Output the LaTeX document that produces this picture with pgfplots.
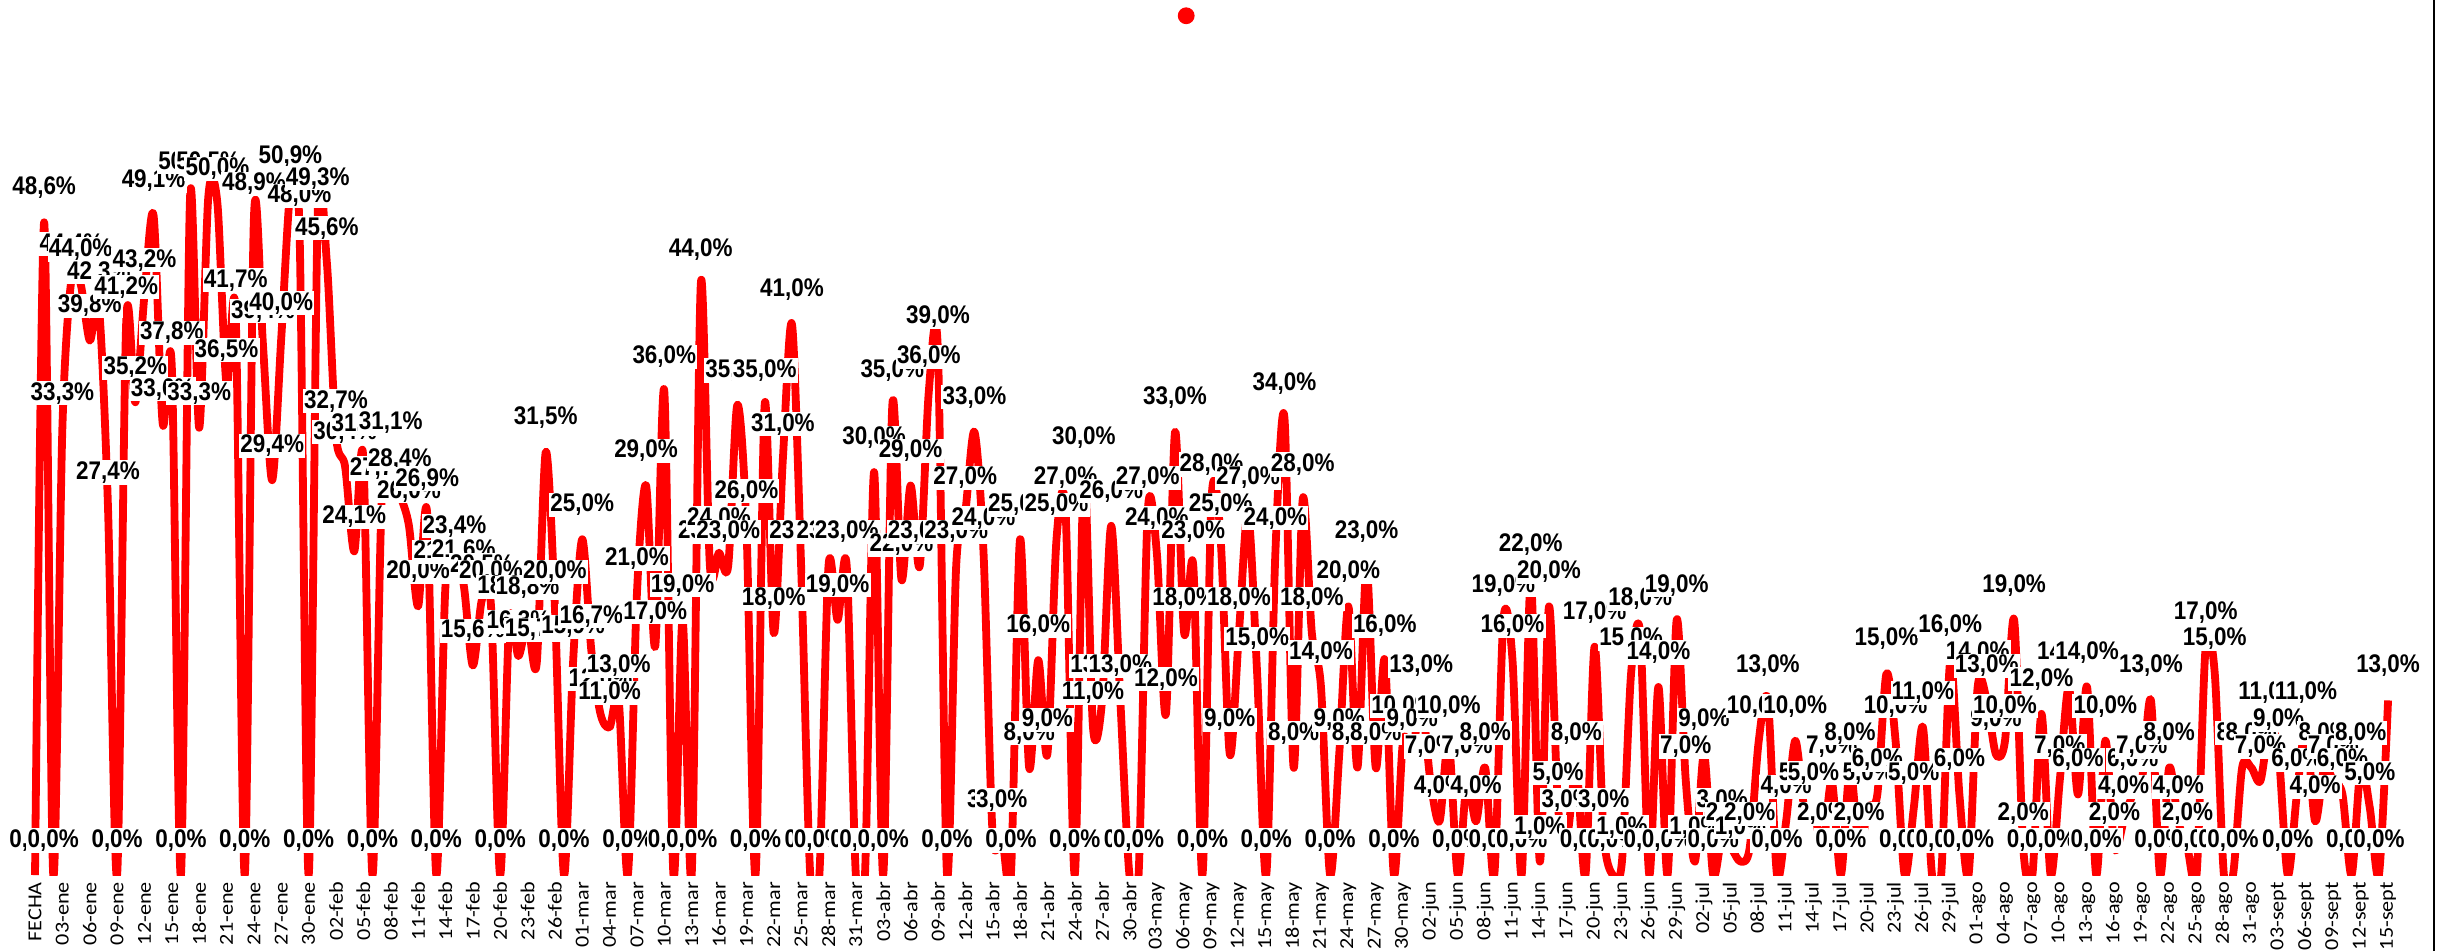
\documentclass[border=0pt]{standalone}
\usepackage{fontspec}
\usepackage{pgfplots}
\pgfplotsset{compat=1.18}
\newfontfamily\labfont[FakeStretch=0.88]{Liberation Sans}
\newfontfamily\tickfont[FakeStretch=1.12]{Carlito}
\definecolor{serred}{RGB}{255,0,0}
\begin{document}
\begin{tikzpicture}
\useasboundingbox (0pt,-25.33pt) rectangle (812.67pt,291.67pt);
\begin{axis}[
  scale only axis, width=811pt, height=291.67pt,
  xmin=-3.84, xmax=262.93, ymin=0, ymax=65.15,
  axis line style={draw=none},
  ytick=\empty,
  major tick length=0pt,
  xtick={0,3,...,258},
  xticklabels={FECHA,03-ene,06-ene,09-ene,12-ene,15-ene,18-ene,21-ene,24-ene,27-ene,30-ene,02-feb,05-feb,08-feb,11-feb,14-feb,17-feb,20-feb,23-feb,26-feb,01-mar,04-mar,07-mar,10-mar,13-mar,16-mar,19-mar,22-mar,25-mar,28-mar,31-mar,03-abr,06-abr,09-abr,12-abr,15-abr,18-abr,21-abr,24-abr,27-abr,30-abr,03-may,06-may,09-may,12-may,15-may,18-may,21-may,24-may,27-may,30-may,02-jun,05-jun,08-jun,11-jun,14-jun,17-jun,20-jun,23-jun,26-jun,29-jun,02-jul,05-jul,08-jul,11-jul,14-jul,17-jul,20-jul,23-jul,26-jul,29-jul,01-ago,04-ago,07-ago,10-ago,13-ago,16-ago,19-ago,22-ago,25-ago,28-ago,31-ago,03-sept,06-sept,09-sept,12-sept,15-sept},
  xticklabel style={rotate=90, anchor=east, inner sep=2.2pt, font=\tickfont\fontsize{6.6}{6.6}\selectfont},
  legend style={at={(axis description cs:0.49,0.982)}, anchor=center, draw=none, fill=none, inner sep=0pt},
  legend image code/.code={\fill[serred] (0.3cm,0cm) circle (2.6pt);},
]
\addplot[forget plot, serred, line width=2.6pt, smooth, line join=round,
  nodes near coords={\pgfmathprintnumber[fixed,fixed zerofill,precision=1,use comma,assume math mode=true]{\pgfplotspointmeta}\%},
  every node near coord/.append style={anchor=center, yshift=11.5pt, fill=white, inner sep=0.4pt, text=black, font=\labfont\bfseries\fontsize{8.5}{9}\selectfont}
] coordinates {
(0,0) (1,48.6) (2,0) (3,33.3) (4,44.4) (5,44.0) (6,39.8) (7,42.3) (8,27.4) (9,0)
(10,41.2) (11,35.2) (12,43.2) (13,49.1) (14,33.6) (15,37.8) (16,0) (17,50.5) (18,33.3) (19,50.5)
(20,50.0) (21,36.5) (22,41.7) (23,0) (24,48.9) (25,39.4) (26,29.4) (27,40.0) (28,50.9) (29,48.0)
(30,0) (31,49.3) (32,45.6) (33,32.7) (34,30.4) (35,24.1) (36,31.0) (37,0) (38,27.7) (39,31.1)
(40,28.4) (41,26.0) (42,20.0) (43,26.9) (44,0) (45,21.5) (46,23.4) (47,21.6) (48,15.6) (49,20.5)
(50,20.0) (51,0) (52,18.9) (53,16.3) (54,18.8) (55,15.7) (56,31.5) (57,20.0) (58,0) (59,15.9)
(60,25.0) (61,16.7) (62,12.0) (63,11.0) (64,13.0) (65,0) (66,21.0) (67,29.0) (68,17.0) (69,36.0)
(70,0) (71,19.0) (72,0) (73,44.0) (74,23.0) (75,24.0) (76,23.0) (77,35.0) (78,26.0) (79,0)
(80,35.0) (81,18.0) (82,31.0) (83,41.0) (84,23.0) (85,0) (86,0) (87,23.0) (88,19.0) (89,23.0)
(90,0) (91,0) (92,30.0) (93,0) (94,35.0) (95,22.0) (96,29.0) (97,23.0) (98,36.0) (99,39.0)
(100,0) (101,23.0) (102,27.0) (103,33.0) (104,24.0) (105,3.0) (106,3.0) (107,0) (108,25.0) (109,8.0)
(110,16.0) (111,9.0) (112,25.0) (113,27.0) (114,0) (115,30.0) (116,11.0) (117,13.0) (118,26.0) (119,13.0)
(120,0) (121,0) (122,27.0) (123,24.0) (124,12.0) (125,33.0) (126,18.0) (127,23.0) (128,0) (129,28.0)
(130,25.0) (131,9.0) (132,18.0) (133,27.0) (134,15.0) (135,0) (136,24.0) (137,34.0) (138,8.0) (139,28.0)
(140,18.0) (141,14.0) (142,0) (143,9.0) (144,20.0) (145,8.0) (146,23.0) (147,8.0) (148,16.0) (149,0)
(150,10.0) (151,9.0) (152,13.0) (153,7.0) (154,4.0) (155,10.0) (156,0) (157,7.0) (158,4.0) (159,8.0)
(160,0) (161,19.0) (162,16.0) (163,0) (164,22.0) (165,1.0) (166,20.0) (167,5.0) (168,3.0) (169,8.0)
(170,0) (171,17.0) (172,3.0) (173,0) (174,1.0) (175,15.0) (176,18.0) (177,0) (178,14.0) (179,0)
(180,19.0) (181,7.0) (182,1.0) (183,9.0) (184,0) (185,3.0) (186,2.0) (187,1.0) (188,2.0) (189,10.0)
(190,13.0) (191,0) (192,4.0) (193,10.0) (194,5.0) (195,5.0) (196,2.0) (197,7.0) (198,0) (199,8.0)
(200,2.0) (201,5.0) (202,6.0) (203,15.0) (204,10.0) (205,0) (206,5.0) (207,11.0) (208,0) (209,0)
(210,16.0) (211,6.0) (212,0) (213,14.0) (214,13.0) (215,9.0) (216,10.0) (217,19.0) (218,2.0) (219,0)
(220,12.0) (221,0) (222,7.0) (223,14.0) (224,6.0) (225,14.0) (226,0) (227,10.0) (228,2.0) (229,4.0)
(230,6.0) (231,7.0) (232,13.0) (233,0) (234,8.0) (235,4.0) (236,2.0) (237,0) (238,17.0) (239,15.0)
(240,0) (241,0) (242,8.0) (243,8.0) (244,7.0) (245,11.0) (246,9.0) (247,0) (248,6.0) (249,11.0)
(250,4.0) (251,8.0) (252,7.0) (253,6.0) (254,0) (255,8.0) (256,5.0) (257,0) (258,13.0)
};
\addlegendimage{only marks}
\addlegendentry{}
\end{axis}
\draw[black, line width=0.8pt] (811.3pt,-25.33pt) -- (811.3pt,291.67pt);
\end{tikzpicture}
\end{document}
